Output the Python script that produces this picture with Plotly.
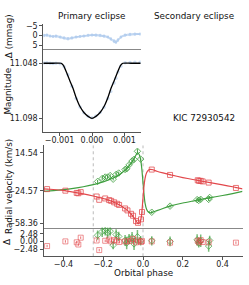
import plotly.graph_objects as go

# ---------------- data ----------------
# light curve model (primary eclipse)
lc_model_phase = [-0.0015, -0.0012, -0.00095, -0.00088, -0.00078, -0.00068, -0.00058, -0.00049,
                  -0.00037, -0.00025, -0.00012, 0.0, 0.00012, 0.00025, 0.00037, 0.00049,
                  0.00058, 0.00068, 0.00078, 0.00088, 0.00095, 0.0012, 0.0015]
lc_model_mag = [11.048, 11.048, 11.048, 11.0500, 11.0567, 11.0641, 11.0712, 11.0790,
                11.0873, 11.0927, 11.0962, 11.098, 11.0962, 11.0927, 11.0873, 11.0790,
                11.0712, 11.0641, 11.0567, 11.0500, 11.048, 11.048, 11.048]

# light curve observations
lc_obs_phase = [-0.00148, -0.00139, -0.00129, -0.0012, -0.00111, -0.00098, -0.00086, -0.00074,
                -0.00062, -0.00049, -0.00037, -0.00025, -0.00012, 0.0, 0.00012, 0.00025,
                0.00037, 0.00049, 0.00058, 0.00068, 0.00074, 0.0008, 0.00089, 0.00102,
                0.00117, 0.00132, 0.00148]
lc_obs_mag = [11.0478, 11.0475, 11.0480, 11.0483, 11.0480, 11.0485, 11.0512, 11.0585,
              11.0688, 11.0800, 11.0878, 11.0930, 11.0960, 11.0975, 11.0958, 11.0925,
              11.0880, 11.0800, 11.0736, 11.0660, 11.0615, 11.0560, 11.0508, 11.0475,
              11.0472, 11.0470, 11.0470]
lc_res = [-0.3, -0.5, 0.0, 0.3, 0.0, 0.5, 1.0, 1.3, 1.0, 0.5, 0.3, 0.0, -0.3, -0.5,
          -0.5, -0.3, 0.0, 0.5, 1.5, 2.5, 3.0, 2.0, 0.5, -0.5, -0.8, -1.0, -1.0]
lc_res_b = [0.2, 0.0, 0.4, 0.6, 0.5, 1.0, 1.5, 1.8, 1.4, 0.9, 0.6, 0.4, 0.1, -0.1,
            0.0, 0.2, 0.5, 1.0, 2.0, 3.2, 3.6, 2.6, 1.0, 0.0, -0.3, -0.5, -0.6]

# RV models
rv_model_phase_g = [-0.5, -0.45, -0.40, -0.35, -0.30, -0.25, -0.20, -0.15, -0.12, -0.10, -0.08,
                    -0.06, -0.045, -0.035, -0.028, -0.02, -0.012, -0.006, 0.0, 0.005, 0.01,
                    0.018, 0.028, 0.038, 0.05, 0.07, 0.10, 0.14, 0.20, 0.25, 0.28, 0.33,
                    0.40, 0.45, 0.5]
rv_model_g = [-25.3, -24.5, -23.5, -22.2, -20.5, -18.3, -15.5, -11.5, -8.0, -5.0, -1.5,
              3.5, 8.5, 12.2, 14.54, 13.0, 7.8, -2.0, -16.0, -28.0, -37.0,
              -43.5, -46.5, -47.3, -46.6, -45.0, -42.8, -40.2, -37.2, -35.2, -34.0, -32.0,
              -29.5, -27.5, -25.3]
rv_model_phase_r = [-0.5, -0.45, -0.41, -0.38, -0.35, -0.30, -0.25, -0.20, -0.15, -0.12, -0.10,
                    -0.08, -0.06, -0.045, -0.035, -0.028, -0.022, -0.015, -0.008, -0.003, 0.0,
                    0.005, 0.01, 0.018, 0.028, 0.038, 0.05, 0.07, 0.10, 0.14, 0.20, 0.25,
                    0.28, 0.33, 0.40, 0.45, 0.5]
rv_model_r = [-22.6, -23.3, -24.0, -25.0, -26.0, -27.8, -30.0, -32.6, -36.0, -39.0, -41.5,
              -44.5, -48.5, -52.5, -55.5, -57.8, -58.36, -57.0, -51.0, -40.0, -32.0,
              -20.0, -12.0, -6.0, -3.2, -2.6, -3.0, -4.5, -6.2, -8.3, -11.0, -13.0,
              -14.1, -16.0, -18.5, -20.5, -22.6]

# RV observations (green = primary)
g_phase = [-0.228, -0.205, -0.19, -0.178, -0.165, -0.15, -0.135, -0.122, -0.09, -0.082, -0.07,
           -0.055, -0.045, -0.028, -0.012, 0.044, 0.136, 0.272, 0.28, 0.29, 0.33, 0.335]
g_rv = [-15.0, -12.0, -10.5, -10.5, -9.0, -12.7, -7.8, -6.4, -2.7, -2.0, 2.0,
        6.0, 7.7, 16.0, 8.0, -46.7, -40.4, -33.7, -34.5, -33.4, -33.5, -31.5]
g_res = [2.0, 3.2, 3.5, 2.8, 3.3, -1.2, 2.2, 1.6, 0.3, -0.5, 0.8,
         1.2, -0.8, 1.5, 0.2, 0.2, 0.0, 0.5, -0.5, 0.2, -1.5, 0.3]
g_err = [1.5, 1.8, 1.6, 1.8, 1.5, 1.3, 1.7, 1.5, 1.8, 2.0, 1.6,
         1.8, 2.0, 2.2, 1.5, 1.5, 1.6, 1.8, 1.5, 2.0, 1.8, 1.5]

# RV observations (red = secondary)
r_phase = [-0.482, -0.39, -0.333, -0.325, -0.313, -0.233, -0.22, -0.19, -0.17, -0.16, -0.145,
           -0.13, -0.12, -0.09, -0.078, -0.06, -0.05, -0.035, -0.025, -0.01, -0.005, 0.044,
           0.136, 0.275, 0.282, 0.29, 0.30, 0.33, 0.467]
r_rv = [-22.9, -24.5, -26.8, -27.2, -26.0, -30.5, -33.9, -32.5, -34.2, -35.0, -36.5,
        -38.0, -39.2, -42.8, -44.8, -48.3, -50.3, -55.8, -57.6, -54.0, -46.5, -2.8,
        -8.3, -13.8, -14.4, -14.4, -15.0, -16.2, -21.7]
r_res = [-1.5, 0.0, -0.3, -1.0, 1.2, 0.3, -2.8, 0.2, 0.6, 0.0, 0.4,
         0.3, -0.2, 0.0, 0.0, 0.2, 0.8, -0.3, 0.3, -0.2, 0.1, 0.0,
         -0.4, 0.2, -0.3, 0.4, -0.2, -0.3, -0.4]
r_err = [0.4] * len(r_phase)

# ticks
lc_res_ticks = [-5, 0, 5]
lc_res_ticktext = ["\u22125", "0", "5"]
mag_ticks = [11.048, 11.098]
prim_xticks = [-0.001, 0.0, 0.001]
prim_xticktext = ["\u22120.001", "0.000", "0.001"]
sec_xticks = [-0.252, -0.251, -0.250]
sec_xticktext = ["\u22120.252", "\u22120.251", "\u22120.250"]
rv_ticks = [-58.36, -24.57, 14.54]
rv_ticktext = ["\u221258.36", "\u221224.57", "14.54"]
rvres_ticks = [-2.48, 0.0, 2.48]
rvres_ticktext = ["\u22122.48", "0.00", "2.48"]
phase_ticks = [-0.4, -0.2, 0.0, 0.2, 0.4]
phase_ticktext = ["\u22120.4", "\u22120.2", "0.0", "0.2", "0.4"]

# ---------------- styling ----------------
W, H = 249, 285
FONT = "DejaVu Sans"
GREEN = "#3f9f3f"
RED = "#e2474b"
LBLUE = "#b3cdee"
AXC = "#555555"

def px_x(a, b):
    return [a / W, b / W]

def px_y(top, bottom):
    return [1 - bottom / H, 1 - top / H]

fig = go.Figure()

# LC residuals (left)
fig.add_trace(go.Scatter(x=lc_obs_phase, y=lc_res, mode="lines+markers", xaxis="x", yaxis="y",
                         line=dict(color=LBLUE, width=1, shape="spline"),
                         marker=dict(color=LBLUE, size=2.5, opacity=0.8)))
fig.add_trace(go.Scatter(x=lc_obs_phase, y=lc_res_b, mode="lines+markers", xaxis="x", yaxis="y",
                         line=dict(color=LBLUE, width=1, shape="spline"),
                         marker=dict(color=LBLUE, size=2.5, opacity=0.6)))
# LC obs + model
fig.add_trace(go.Scatter(x=lc_obs_phase, y=lc_obs_mag, mode="markers", xaxis="x2", yaxis="y2",
                         marker=dict(color=LBLUE, size=3.5, opacity=0.6)))
fig.add_trace(go.Scatter(x=lc_model_phase, y=lc_model_mag, mode="lines", xaxis="x2", yaxis="y2",
                         line=dict(color="black", width=1.3, shape="spline", smoothing=0.6)))

# RV models
fig.add_trace(go.Scatter(x=rv_model_phase_g, y=rv_model_g, mode="lines", xaxis="x5", yaxis="y5",
                         line=dict(color=GREEN, width=1.2, shape="spline", smoothing=0.5)))
fig.add_trace(go.Scatter(x=rv_model_phase_r, y=rv_model_r, mode="lines", xaxis="x5", yaxis="y5",
                         line=dict(color=RED, width=1.2, shape="spline", smoothing=0.5)))
# RV obs
fig.add_trace(go.Scatter(x=r_phase, y=r_rv, mode="markers", xaxis="x5", yaxis="y5",
                         error_y=dict(type="data", array=r_err, color=RED, thickness=0.8, width=0),
                         marker=dict(symbol="square-open", color=RED, size=5, opacity=0.75,
                                     line=dict(width=1))))
fig.add_trace(go.Scatter(x=g_phase, y=g_rv, mode="markers", xaxis="x5", yaxis="y5",
                         error_y=dict(type="data", array=g_err, color=GREEN, thickness=1, width=0),
                         marker=dict(symbol="diamond-open", color=GREEN, size=5, opacity=0.8,
                                     line=dict(width=1))))
# RV residuals
fig.add_trace(go.Scatter(x=g_phase, y=g_res, mode="markers", xaxis="x6", yaxis="y6",
                         error_y=dict(type="data", array=g_err, color="rgba(63,159,63,0.7)",
                                      thickness=1.5, width=0),
                         marker=dict(symbol="diamond-open", color=GREEN, size=5, opacity=0.7,
                                     line=dict(width=1))))
fig.add_trace(go.Scatter(x=r_phase, y=r_res, mode="markers", xaxis="x6", yaxis="y6",
                         error_y=dict(type="data", array=r_err, color=RED, thickness=0.8, width=0),
                         marker=dict(symbol="square-open", color=RED, size=5, opacity=0.6,
                                     line=dict(width=1))))

tickfont = dict(family=FONT, size=8, color="#222222")

def xax(domain, rng, anchor, tickvals=None, ticktext=None, showline=True, linecolor=AXC):
    d = dict(domain=domain, range=rng, anchor=anchor, showgrid=False, zeroline=False,
             showline=showline, linecolor=linecolor, linewidth=1, tickfont=tickfont,
             mirror=False)
    if tickvals is None:
        d.update(showticklabels=False, ticks="")
    else:
        d.update(tickvals=tickvals, ticktext=ticktext, ticks="outside", ticklen=3,
                 tickcolor=AXC, tickwidth=1, ticklabelstandoff=-3)
    return d

def yax(domain, rng, anchor, tickvals=None, ticktext=None):
    d = dict(domain=domain, range=rng, anchor=anchor, showgrid=False, zeroline=False,
             showline=True, linecolor=AXC, linewidth=1, tickfont=tickfont)
    if tickvals is None:
        d.update(showticklabels=False, ticks="")
    else:
        d.update(tickvals=tickvals, ticktext=ticktext, ticks="outside", ticklen=3,
                 tickcolor=AXC, tickwidth=1)
    return d

left = px_x(43.3, 140.7)
right = px_x(145.3, 242.7)
full = px_x(43.5, 242.5)

fig.update_layout(
    width=W, height=H, margin=dict(l=0, r=0, t=0, b=0),
    paper_bgcolor="white", plot_bgcolor="white", showlegend=False,
    font=dict(family=FONT, size=9, color="#222222"),
    xaxis=xax(left, [-0.0015, 0.0015], "y", linecolor="#888888"),
    yaxis=yax(px_y(22, 48), [7, -6], "x", lc_res_ticks, lc_res_ticktext),
    xaxis2=xax(left, [-0.0015, 0.0015], "y2", prim_xticks, prim_xticktext),
    yaxis2=yax(px_y(48, 131.5), [11.1105, 11.0355], "x2", mag_ticks, [str(v) for v in mag_ticks]),
    xaxis3=xax(right, [-0.2525, -0.2495], "y3", linecolor="#888888"),
    yaxis3=yax(px_y(22, 48), [7, -6], "x3"),
    xaxis4=xax(right, [-0.2525, -0.2495], "y4", sec_xticks, sec_xticktext),
    yaxis4=yax(px_y(48, 131.5), [11.1105, 11.0355], "x4"),
    xaxis5=xax(full, [-0.5, 0.5], "y5", linecolor="#888888"),
    yaxis5=yax(px_y(145, 228), [-62.5, 22], "x5", rv_ticks, rv_ticktext),
    xaxis6=xax(full, [-0.5, 0.5], "y6", phase_ticks, phase_ticktext),
    yaxis6=yax(px_y(228, 257), [-4.8, 4.45], "x6", rvres_ticks, rvres_ticktext),
)

# dotted phase markers
for ph in [-0.25, 0.0]:
    fig.add_shape(type="line", xref="x5", yref="paper", x0=ph, x1=ph,
                  y0=1 - 257 / H, y1=1 - 145 / H,
                  line=dict(color="#a8a8a8", width=0.8, dash="dot"), layer="below")

def ann(text, x, y, angle=0, xanchor="center", size=8.8):
    fig.add_annotation(text=text, x=x / W, y=1 - y / H, xref="paper", yref="paper",
                       showarrow=False, textangle=angle, xanchor=xanchor, yanchor="middle",
                       font=dict(family=FONT, size=size, color="#111111"))

ann("Primary eclipse", 92, 14)
ann("Secondary eclipse", 194, 14)
ann("KIC 72930542", 237, 117, xanchor="right")
ann("Orbital phase", 143, 274)
ann("\u0394 (mmag)", 8.5, 35, angle=-90)
ann("Magnitude", 8.5, 90, angle=-90)
ann("Radial velocity (km/s)", 8.5, 186.5, angle=-90)
ann("\u0394", 7, 242.5, angle=-90)

fig.write_html("out.html", config={"displayModeBar": False},
               post_script="document.body.style.margin='0';")
